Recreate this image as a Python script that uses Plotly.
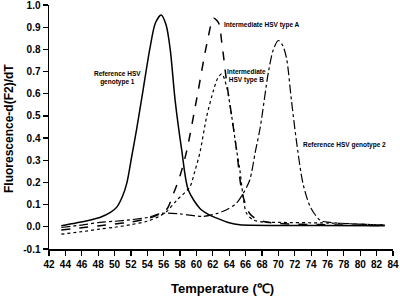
import plotly.graph_objects as go

# Reference HSV genotype 1 (solid)
ref1_t = [43.5, 45, 46.5, 48.2, 49.5, 50.3, 51.0, 51.5, 52.1, 52.7, 53.5, 54.3, 55.0, 55.7, 56.3, 56.8, 57.4, 58.2, 59.0, 60.4, 61.5, 62.5, 64.0, 65.3, 70, 75, 83]
ref1_v = [0.005, 0.015, 0.026, 0.042, 0.065, 0.09, 0.14, 0.197, 0.317, 0.44, 0.62, 0.80, 0.92, 0.955, 0.91, 0.80, 0.57, 0.347, 0.167, 0.084, 0.055, 0.039, 0.018, 0.009, 0.006, 0.006, 0.005]

# Intermediate HSV type A (dashed)
intA_t = [43.5, 46, 48.2, 50, 52, 54, 55.6, 56.4, 57.2, 58.0, 58.8, 60.0, 61.3, 62.1, 62.7, 63.1, 63.7, 64.3, 64.9, 65.6, 66.5, 67.3, 68.2, 70, 75, 83.2]
intA_v = [-0.014, -0.004, 0.005, 0.012, 0.022, 0.036, 0.06, 0.08, 0.15, 0.23, 0.34, 0.57, 0.83, 0.94, 0.92, 0.83, 0.65, 0.50, 0.347, 0.15, 0.06, 0.035, 0.024, 0.015, 0.01, 0.005]

# Intermediate HSV type B (dotted)
intB_t = [43.5, 46, 48.2, 50, 52, 54, 55.6, 56.4, 57.6, 59.2, 59.8, 60.4, 61.25, 62.1, 62.6, 63.1, 63.7, 64.3, 64.9, 65.3, 65.7, 66.1, 66.9, 68, 70, 76, 83]
intB_v = [-0.033, -0.022, -0.01, -0.002, 0.01, 0.025, 0.05, 0.07, 0.12, 0.18, 0.25, 0.33, 0.497, 0.617, 0.67, 0.69, 0.63, 0.50, 0.347, 0.257, 0.137, 0.062, 0.032, 0.022, 0.02, 0.017, 0.008]

# Reference HSV genotype 2 (dash-dot)
ref2_t = [43.5, 46, 48.2, 50, 52, 54, 55.6, 56.5, 58, 60.8, 62.5, 63.7, 64.9, 65.7, 66.5, 67.2, 67.8, 68.8, 69.4, 70.0, 70.5, 71.0, 71.6, 72.2, 73.0, 73.9, 75.1, 76.3, 80, 83]
ref2_v = [-0.003, 0.008, 0.02, 0.025, 0.032, 0.042, 0.06, 0.062, 0.058, 0.047, 0.06, 0.077, 0.107, 0.15, 0.21, 0.34, 0.45, 0.70, 0.80, 0.84, 0.82, 0.76, 0.57, 0.39, 0.197, 0.09, 0.03, 0.02, 0.012, 0.008]

x_ticks = list(range(42, 85, 2))
y_ticks = [round(-0.1 + 0.1 * i, 1) for i in range(12)]

FONT = "Liberation Sans, Arial, Helvetica, sans-serif"

fig = go.Figure()
series = [
    (ref1_t, ref1_v, "solid", 1.5),
    (intA_t, intA_v, "dash", 1.5),
    (intB_t, intB_v, "dot", 1.2),
    (ref2_t, ref2_v, "dashdot", 1.2),
]
for t, v, dash, w in series:
    fig.add_trace(go.Scatter(x=t, y=v, mode="lines",
                             line=dict(color="black", width=w, dash=dash, shape="spline", smoothing=0.8),
                             showlegend=False, hoverinfo="skip", cliponaxis=False))

ann_font = dict(family=FONT, size=6.5, color="black", weight="bold")
annotations = [
    dict(x=50.36, y=0.673, text="Reference HSV<br>genotype 1", xanchor="center", yanchor="middle", align="center"),
    dict(x=63.09, y=0.911, text="Intermediate HSV type A", xanchor="left", yanchor="middle"),
    dict(x=66.14, y=0.682, text="Intermediate<br>HSV type B", xanchor="center", yanchor="middle", align="center"),
    dict(x=72.77, y=0.369, text="Reference HSV genotype 2", xanchor="left", yanchor="middle"),
]
for a in annotations:
    fig.add_annotation(xref="x", yref="y", showarrow=False, font=ann_font, **a)

# axis titles
fig.add_annotation(xref="paper", yref="paper", x=(222.5 - 49) / 344, y=(249 - 288) / 244,
                   text="Temperature (\u2103)", showarrow=False, xanchor="center", yanchor="middle",
                   font=dict(family=FONT, size=13, color="black", weight="bold"))
fig.add_annotation(xref="paper", yref="paper", x=(8.5 - 49) / 344, y=(249 - 128.5) / 244,
                   text="Fluorescence-d(F2)/dT", textangle=-90, showarrow=False,
                   xanchor="center", yanchor="middle",
                   font=dict(family=FONT, size=12, color="black", weight="bold"))

tick_font = dict(family=FONT, size=10, color="black", weight="bold")
fig.update_xaxes(range=[42, 84], tickvals=x_ticks, ticktext=[str(v) for v in x_ticks],
                 showgrid=False, zeroline=False, showline=True, linecolor="black", linewidth=1.5,
                 ticks="outside", ticklen=5, tickwidth=1.2, tickcolor="black", tickfont=tick_font,
                 automargin=False, ticklabeloverflow="allow")
fig.update_yaxes(range=[-0.1, 1.0], tickvals=y_ticks, ticktext=[f"{v:.1f}" for v in y_ticks],
                 showgrid=False, zeroline=False, showline=True, linecolor="black", linewidth=1.5,
                 ticks="outside", ticklen=5, tickwidth=1.2, tickcolor="black", tickfont=tick_font,
                 automargin=False, ticklabeloverflow="allow")

fig.update_layout(width=400, height=296, margin=dict(l=49, r=7, t=5, b=47),
                  paper_bgcolor="white", plot_bgcolor="white", font=dict(family=FONT))

fig.write_html("out.html", config={"displayModeBar": False, "staticPlot": True},
               post_script="document.body.style.margin='0';document.body.style.overflow='hidden';")
